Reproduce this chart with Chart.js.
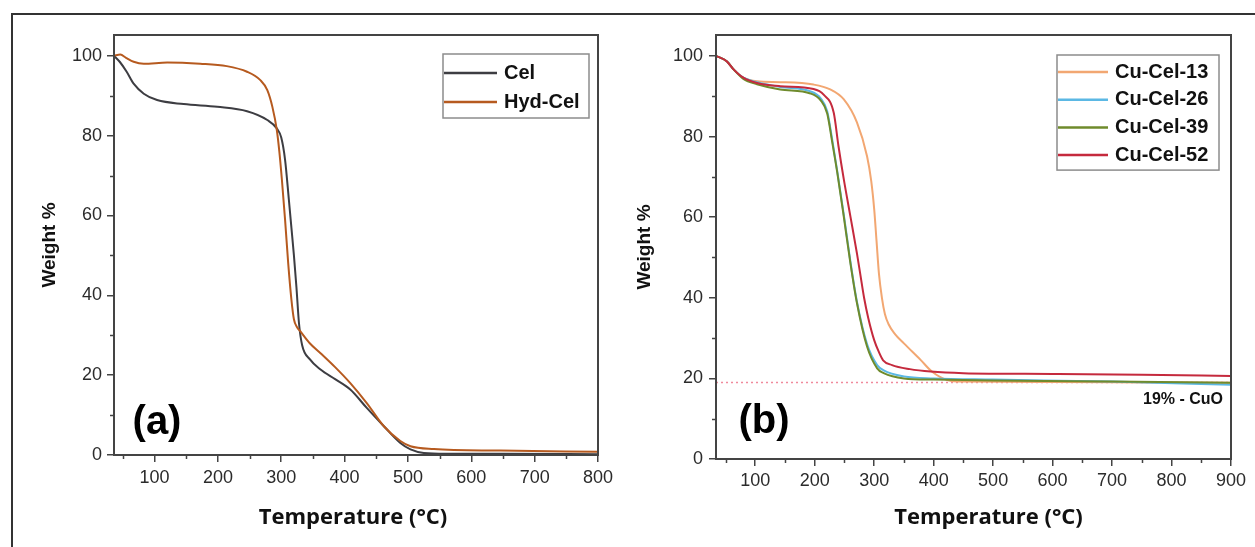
<!DOCTYPE html>
<html><head><meta charset="utf-8">
<script src="https://cdn.jsdelivr.net/npm/chart.js@4.4.1/dist/chart.umd.min.js"></script>
<style>
html,body{margin:0;padding:0;background:#fff;}
#wrap{position:relative;width:1255px;height:547px;overflow:hidden;background:#fff;}
#frame{position:absolute;left:11px;top:13px;width:1260px;height:560px;border-left:2px solid #333;border-top:2px solid #333;}
#chartA{position:absolute;left:0;top:0;}
#chartB{position:absolute;left:620px;top:0;}
</style></head><body>
<div id="wrap"><div id="frame"></div>
<canvas id="chartA" width="620" height="547"></canvas>
<canvas id="chartB" width="635" height="547"></canvas>
</div>
<script>
// ---------- Panel (a) data ----------
const celT = [36,45,56,67,83,104,146,199,246,278,293,300,306,312,316,320,324,328,333,345,362,385,409,435,462,488,504,525,560,650,800];
const celW = [100,98.5,96,93,90.5,88.9,87.9,87.2,86.1,83.9,81.8,79.5,74,64,57,50,42,33,27.5,24,21.4,19,16.4,11.8,7.2,3,1.4,0.5,0.3,0.3,0.2];
const hydT = [36,46,55,67,83,120,172,214,246,267,278,286,293,297,301,306,311,316,320,325,330,345,362,385,409,435,462,488,504,541,646,800];
const hydW = [100,100.3,99.5,98.5,98,98.3,98,97.4,96,93.9,91.4,87.2,81.4,76,69,59,48,39,34,32,31,28,25.5,22,18,13,7.2,3.5,2.2,1.5,1.1,0.8];
const xTicksA = [100,200,300,400,500,600,700,800];
const xMinorA = [50,150,250,350,450,550,650,750];
const xRangeA = [36,800];

// ---------- Panel (b) data ----------
const c13T = [34,52,64,80,103,142,198,226,249,271,288,295,300,304,308,313,318,324,335,350,378,397,423,450,600,750,900];
const c13W = [100,98.7,96.6,94.6,93.7,93.5,92.9,91.7,89.2,83.5,75.1,69,62,54,46,40,36,33.5,31,28.7,24.6,21.7,19.6,19.2,19.1,19,18.9];
const c26T = [34,52,64,80,103,142,193,210,221,229,238,249,260,271,288,305,316,350,400,500,700,900];
const c26W = [100,98.7,96.6,94.6,93.5,92.3,91.2,89.5,86.3,79.6,71.3,60.5,49,39,28.5,23.3,22,20.5,20,19.7,19.2,18.4];
const c39T = [34,52,64,80,103,142,193,210,221,229,238,249,260,271,288,305,316,350,400,500,700,900];
const c39W = [100,98.7,96.6,94.3,93,91.7,90.7,89,85.7,79,71,60,48.6,38.7,27.9,22.5,21.3,20,19.7,19.5,19.2,18.9];
const c52T = [34,52,64,80,103,142,198,215,232,240,249,260,271,277,283,290,300,308,315,330,360,395,450,600,750,900];
const c52W = [100,98.7,96.6,94.6,93.3,92.5,91.8,90.4,85.9,77.6,69.3,60.2,51,45.5,40,35,29.5,26.5,24.5,23.3,22.3,21.7,21.3,21.1,20.9,20.6];
const cuoLevel = 19;
const xTicksB = [100,200,300,400,500,600,700,800,900];
const xMinorB = [50,150,250,350,450,550,650,750,850];
const xRangeB = [34,900];

const yTicks = [0,20,40,60,80,100];
const yMinor = [10,30,50,70,90];
const yMax = 105.2;

const pts = (T, W) => T.map((t, i) => ({x: t, y: W[i]}));

const decorPlugin = {
  id: 'decor',
  afterDatasetsDraw(chart, args, o) {
    const {ctx, chartArea: a} = chart;
    const xs = chart.scales.x, ys = chart.scales.y;
    ctx.save();
    ctx.strokeStyle = '#444'; ctx.lineWidth = 2;
    ctx.strokeRect(a.left, a.top, a.right - a.left, a.bottom - a.top);
    ctx.lineWidth = 1.5; ctx.beginPath();
    o.xMinor.forEach(v => { const p = Math.round(xs.getPixelForValue(v)) + 0.5; ctx.moveTo(p, a.bottom); ctx.lineTo(p, a.bottom + 4); });
    o.yMinor.forEach(v => { const p = Math.round(ys.getPixelForValue(v)) + 0.5; ctx.moveTo(a.left, p); ctx.lineTo(a.left - 4, p); });
    ctx.stroke();
    // legend
    const L = o.legend;
    const items = chart.data.datasets.filter(d => d.label);
    const bx = a.right - L.right - L.width, by = a.top + L.top;
    const bh = L.padTop + (items.length - 1) * L.rowH + L.padBottom;
    ctx.strokeStyle = '#8c8c8c'; ctx.lineWidth = 1.5;
    ctx.strokeRect(bx, by, L.width, bh);
    ctx.font = L.font; ctx.textBaseline = 'middle'; ctx.textAlign = 'left';
    items.forEach((d, i) => {
      const yy = by + L.padTop + i * L.rowH;
      ctx.strokeStyle = d.borderColor; ctx.lineWidth = 2.5;
      ctx.beginPath(); ctx.moveTo(bx + 1, yy); ctx.lineTo(bx + L.lineLen, yy); ctx.stroke();
      ctx.fillStyle = '#111';
      ctx.fillText(d.label, bx + L.lineLen + L.gap, yy);
    });
    // panel tag
    ctx.font = o.tag.font; ctx.textAlign = 'center'; ctx.textBaseline = 'middle'; ctx.fillStyle = '#000';
    ctx.fillText(o.tag.text, a.left + o.tag.dx, a.bottom - o.tag.dy);
    if (o.note) {
      ctx.font = o.note.font; ctx.textAlign = 'right'; ctx.fillStyle = '#111';
      ctx.fillText(o.note.text, a.right - o.note.dx, ys.getPixelForValue(o.note.value) + o.note.dy);
    }
    // x axis title
    const t = o.xTitle;
    ctx.font = t.font; ctx.textAlign = 'center'; ctx.textBaseline = 'middle'; ctx.fillStyle = '#111';
    ctx.fillText(t.text, (a.left + a.right) / 2 + t.dx, chart.height - t.fromBottom);
    ctx.restore();
  }
};

function axes(xRange, xTicks, yTitlePad, yWidth, xHeight, yPad, xPad) {
  const tickFont = {family: "'Liberation Sans', Arial, sans-serif", size: 18};
  return {
    x: {
      type: 'linear', min: xRange[0], max: xRange[1],
      afterBuildTicks: s => { s.ticks = xTicks.map(v => ({value: v})); },
      afterFit: s => { s.height = xHeight; },
      grid: {drawOnChartArea: false, drawTicks: true, tickLength: 7, color: '#444', lineWidth: 1.5},
      border: {display: true, color: '#444', width: 2},
      ticks: {font: tickFont, color: '#2b2b2b', padding: xPad, maxRotation: 0, autoSkip: false},
      title: {display: false}
    },
    y: {
      type: 'linear', min: 0, max: yMax,
      afterBuildTicks: s => { s.ticks = yTicks.map(v => ({value: v})); },
      afterFit: s => { s.width = yWidth; },
      grid: {drawOnChartArea: false, drawTicks: true, tickLength: 7, color: '#444', lineWidth: 1.5},
      border: {display: true, color: '#444', width: 2},
      ticks: {font: tickFont, color: '#2b2b2b', padding: yPad, autoSkip: false},
      title: {display: true, text: 'Weight %', color: '#111',
        font: {family: "'Liberation Sans', Arial, sans-serif", size: 19, weight: 'bold'}, padding: {top: yTitlePad, bottom: 0}}
    }
  };
}

const common = (padRight) => ({
  responsive: false, animation: false,
  layout: {padding: {left: 0, top: 35, right: padRight, bottom: 0}},
  elements: {point: {radius: 0}, line: {cubicInterpolationMode: 'monotone', borderWidth: 2}},
  plugins: {legend: {display: false}, tooltip: {enabled: false}}
});
const xTitleFont = "700 22px 'Open Sans', sans-serif";

// Panel (a)
const optA = common(22);
optA.scales = axes(xRangeA, xTicksA, 38, 114, 92, 5, 5);
optA.plugins.decor = {
  xMinor: xMinorA, yMinor: yMinor,
  legend: {right: 9, top: 19, width: 146, padTop: 19, rowH: 29, padBottom: 16, lineLen: 54, gap: 7,
    font: "bold 20px 'Liberation Sans', Arial, sans-serif"},
  tag: {text: '(a)', font: "bold 40px 'Liberation Sans', Arial, sans-serif", dx: 43, dy: 32},
  xTitle: {text: 'Temperature (\u00B0C)', font: xTitleFont, dx: -3, fromBottom: 29}
};
new Chart(document.getElementById('chartA'), {
  type: 'line',
  data: {datasets: [
    {label: 'Cel', data: pts(celT, celW), borderColor: '#3d3d42', order: 1},
    {label: 'Hyd-Cel', data: pts(hydT, hydW), borderColor: '#b65a1f', order: 0}
  ]},
  options: optA,
  plugins: [decorPlugin]
});

// Panel (b)
const optB = common(24);
optB.scales = axes(xRangeB, xTicksB, 13, 96, 88, 6, 4);
optB.plugins.decor = {
  xMinor: xMinorB, yMinor: yMinor,
  legend: {right: 12, top: 20, width: 162, padTop: 17, rowH: 27.7, padBottom: 15, lineLen: 51, gap: 7,
    font: "bold 20px 'Liberation Sans', Arial, sans-serif"},
  tag: {text: '(b)', font: "bold 40px 'Liberation Sans', Arial, sans-serif", dx: 48, dy: 37},
  note: {text: '19% - CuO', font: "bold 16px 'Liberation Sans', Arial, sans-serif", value: cuoLevel, dx: 8, dy: 17},
  xTitle: {text: 'Temperature (\u00B0C)', font: xTitleFont, dx: 15, fromBottom: 29}
};
new Chart(document.getElementById('chartB'), {
  type: 'line',
  data: {datasets: [
    {label: 'Cu-Cel-13', data: pts(c13T, c13W), borderColor: '#f2a772', order: 3},
    {label: 'Cu-Cel-26', data: pts(c26T, c26W), borderColor: '#5bb8e4', order: 2},
    {label: 'Cu-Cel-39', data: pts(c39T, c39W), borderColor: '#6f8b2c', order: 1},
    {label: 'Cu-Cel-52', data: pts(c52T, c52W), borderColor: '#c52a3d', order: 0},
    {label: '', data: xRangeB.map(t => ({x: t, y: cuoLevel})), borderColor: '#f08a9c', borderWidth: 1.5,
      borderDash: [2, 3], order: 4, cubicInterpolationMode: 'default', tension: 0}
  ]},
  options: optB,
  plugins: [decorPlugin]
});
</script>
</body></html>
